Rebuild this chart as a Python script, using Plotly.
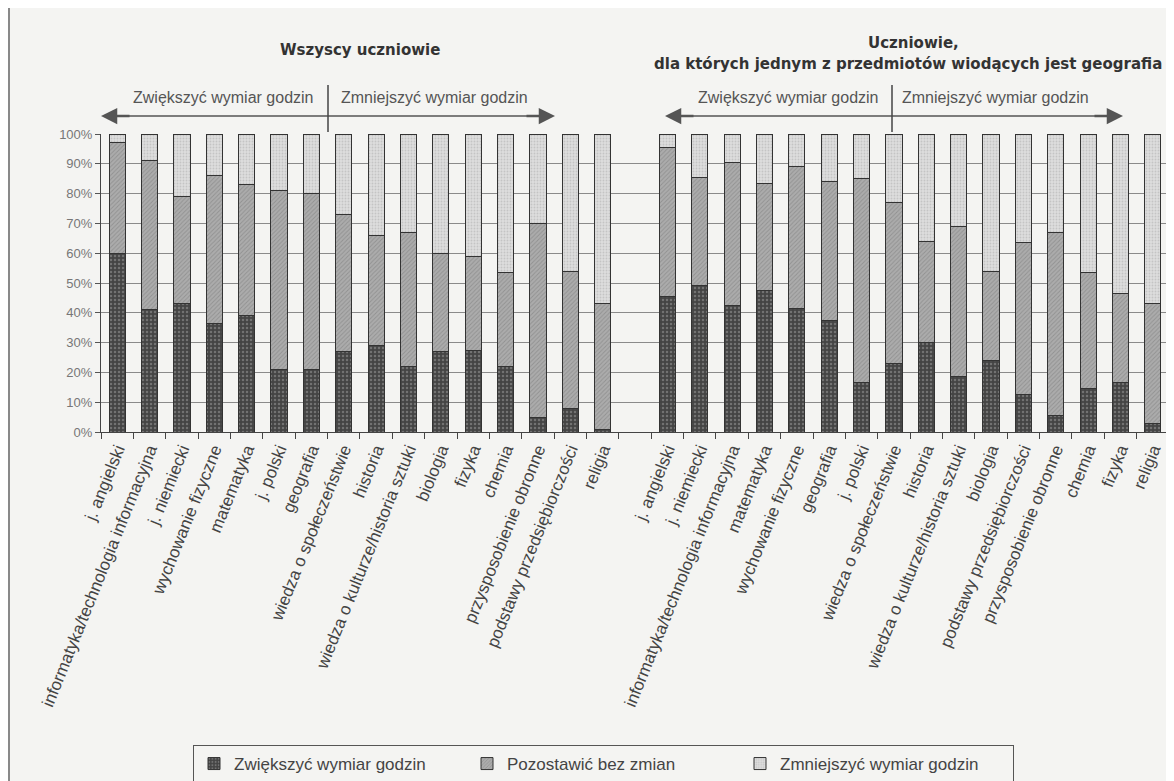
import plotly.graph_objects as go

# ---------------- data ----------------
subjects_all = [
    "j. angielski", "informatyka/technologia informacyjna", "j. niemiecki",
    "wychowanie fizyczne", "matematyka", "j. polski", "geografia",
    "wiedza o społeczeństwie", "historia", "wiedza o kulturze/historia sztuki",
    "biologia", "fizyka", "chemia", "przysposobienie obronne",
    "podstawy przedsiębiorczości", "religia",
]
inc_all = [60, 41, 43, 36.5, 39, 21, 21, 27, 29, 22, 27, 27.5, 22, 5, 8, 1]
same_all = [37, 50, 36, 49.5, 44, 60, 59, 46, 37, 45, 33, 31.5, 31.5, 65, 46, 42]
dec_all = [3, 9, 21, 14, 17, 19, 20, 27, 34, 33, 40, 41, 46.5, 30, 46, 57]

subjects_geo = [
    "j. angielski", "j. niemiecki", "informatyka/technologia informacyjna",
    "matematyka", "wychowanie fizyczne", "geografia", "j. polski",
    "wiedza o społeczeństwie", "historia", "wiedza o kulturze/historia sztuki",
    "biologia", "podstawy przedsiębiorczości", "przysposobienie obronne",
    "chemia", "fizyka", "religia",
]
inc_geo = [45.5, 49, 42.5, 47.5, 41.5, 37.5, 16.5, 23, 30, 18.5, 24, 12.5, 5.5, 14.5, 16.5, 3]
same_geo = [50, 36.5, 48, 36, 47.5, 46.5, 68.5, 54, 34, 50.5, 30, 51, 61.5, 39, 30, 40]
dec_geo = [4.5, 14.5, 9.5, 16.5, 11, 16, 15, 23, 36, 31, 46, 36.5, 33, 46.5, 53.5, 57]

series_names = ["Zwiększyć wymiar godzin", "Pozostawić bez zmian", "Zmniejszyć wymiar godzin"]
y_ticks = [0, 10, 20, 30, 40, 50, 60, 70, 80, 90, 100]
group_titles = ["Wszyscy uczniowie", "Uczniowie,", "dla których jednym z przedmiotów wiodących jest geografia"]
direction_labels = ["Zwiększyć wymiar godzin", "Zmniejszyć wymiar godzin"]

# ---------------- build ----------------
ids = [f"A{i}" for i in range(len(subjects_all))] + ["gap"] + [f"G{i}" for i in range(len(subjects_geo))]
tick_text = subjects_all + [""] + subjects_geo
series_values = [
    inc_all + [None] + inc_geo,
    same_all + [None] + same_geo,
    dec_all + [None] + dec_geo,
]
styles = [
    dict(color="#444444", pattern=dict(shape=".", bgcolor="#444444", fgcolor="#a0a0a0", size=4, solidity=0.3)),
    dict(color="#a4a4a4", pattern=dict(shape="/", bgcolor="#acacac", fgcolor="#767676", size=3, solidity=0.3)),
    dict(color="#d8d8d8", pattern=dict(shape=".", bgcolor="#dddddd", fgcolor="#ababab", size=3, solidity=0.3)),
]

fig = go.Figure()
for name, vals, st in zip(series_names, series_values, styles):
    fig.add_trace(go.Bar(
        x=ids, y=vals, name=name,
        marker=dict(color=st["color"], pattern=st["pattern"], line=dict(color="#333333", width=1)),
    ))

BG = "#f4f4f2"
OFF = 8  # page body margin of the html page
W, H = 1174 - OFF, 781 - OFF
L, T = 101 - OFF, 134 - OFF
R = W - (1169 - OFF)
B = H - (432 - OFF)
pw, ph = W - L - R, H - T - B


def px(x):
    """page pixel -> paper x"""
    return (x - OFF - L) / pw


def py(y):
    """page pixel -> paper y"""
    return (H - B - (y - OFF)) / ph


txt_font = dict(family="Liberation Sans, Arial", size=16, color="#555")
bold_font = dict(family="DejaVu Sans, Verdana, sans-serif", size=15, color="#333")

annotations = [
    dict(text="<b>" + group_titles[0] + "</b>", x=px(360), y=py(50), font=bold_font),
    dict(text="<b>" + group_titles[1] + "</b>", x=px(913), y=py(43), font=bold_font),
    dict(text="<b>" + group_titles[2] + "</b>", x=px(908), y=py(64), font=bold_font),
    dict(text=direction_labels[0], x=px(223), y=py(98), font=txt_font),
    dict(text=direction_labels[1], x=px(434), y=py(98), font=txt_font),
    dict(text=direction_labels[0], x=px(788), y=py(98), font=txt_font),
    dict(text=direction_labels[1], x=px(995), y=py(98), font=txt_font),
]
for a in annotations:
    a.update(xref="paper", yref="paper", showarrow=False, xanchor="center", yanchor="middle")

shapes = []
arrow_y = 116
for left_tip, right_tip, div in [(101, 555, 328), (665, 1123, 892)]:
    shapes.append(dict(type="line", xref="paper", yref="paper", x0=px(left_tip + 8), x1=px(right_tip - 8),
                       y0=py(arrow_y), y1=py(arrow_y), line=dict(color="#555", width=1.5)))
    shapes.append(dict(type="line", xref="paper", yref="paper", x0=px(div), x1=px(div),
                       y0=py(85), y1=py(132), line=dict(color="#444", width=1.5)))
    for tip, off in [(left_tip, 30), (right_tip, -30)]:
        annotations.append(dict(x=px(tip), y=py(arrow_y), xref="paper", yref="paper", text="",
                                showarrow=True, ax=off, ay=0, arrowhead=2, arrowsize=1.3,
                                arrowwidth=2.5, arrowcolor="#555"))
# outer frame line of the scanned figure
shapes.append(dict(type="line", xref="paper", yref="paper", x0=px(9), x1=px(9), y0=py(8), y1=py(781),
                   line=dict(color="#666", width=1.5)))

fig.update_layout(
    width=W, height=H,
    barmode="stack", bargap=0.5,
    paper_bgcolor=BG, plot_bgcolor=BG,
    margin=dict(l=L, r=R, t=T, b=B, autoexpand=False),
    font=dict(family="Liberation Sans, Arial", color="#444"),
    annotations=annotations, shapes=shapes,
    legend=dict(orientation="h", x=px(193), y=py(745), xanchor="left", yanchor="top",
                bordercolor="#555", borderwidth=1, bgcolor=BG,
                font=dict(family="Liberation Sans, Arial", size=17, color="#444"),
                entrywidth=228, entrywidthmode="pixels", traceorder="normal",
                itemwidth=30, tracegroupgap=0),
    showlegend=True,
)
fig.update_xaxes(
    type="category", categoryorder="array", categoryarray=ids,
    tickmode="array", tickvals=ids, ticktext=tick_text, tickson="boundaries",
    ticks="outside", ticklen=6, tickcolor="#444", tickangle=-68,
    tickfont=dict(family="Liberation Sans, Arial", size=17, color="#444"),
    showline=True, linecolor="#444", linewidth=1, range=[-0.5, len(ids) - 0.5],
    showgrid=False, automargin=False,
)
fig.update_yaxes(
    range=[0, 100], tickmode="array", tickvals=y_ticks, ticktext=[f"{v}%" for v in y_ticks],
    showgrid=True, gridcolor="#8a8a8a", gridwidth=1,
    ticks="outside", ticklen=5, tickcolor="#555",
    tickfont=dict(family="Liberation Sans, Arial", size=13, color="#777"),
    showline=True, linecolor="#444", linewidth=1, zeroline=False, automargin=False,
)

fig.write_html("out.html")
